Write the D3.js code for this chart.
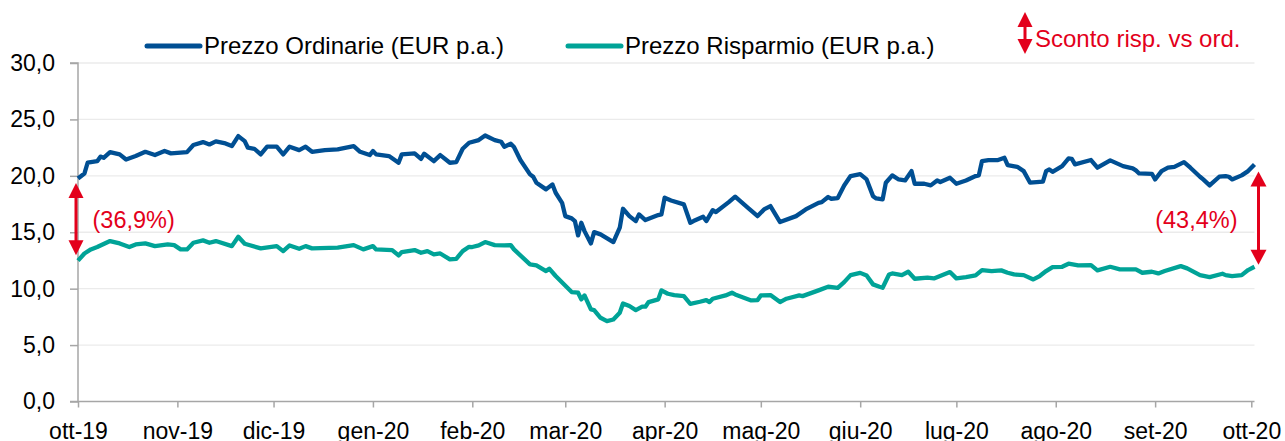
<!DOCTYPE html>
<html>
<head>
<meta charset="utf-8">
<script src="https://cdn.jsdelivr.net/npm/d3@7"></script>
<style>
  body { margin: 0; background: #fff; }
  text { font-family: "Liberation Sans", Arial, sans-serif; }
</style>
</head>
<body>
<svg id="chart" width="1285" height="441"></svg>
<script>
// dati
var ordDates = ["2019-10-01","2019-10-03","2019-10-04","2019-10-07","2019-10-08","2019-10-09","2019-10-11","2019-10-14","2019-10-16","2019-10-19",
  "2019-10-22","2019-10-25","2019-10-28","2019-10-30","2019-11-04","2019-11-06","2019-11-09","2019-11-11","2019-11-13","2019-11-16",
  "2019-11-18","2019-11-20","2019-11-22","2019-11-23","2019-11-25","2019-11-27","2019-11-29","2019-12-02","2019-12-04","2019-12-06",
  "2019-12-09","2019-12-11","2019-12-13","2019-12-17","2019-12-21","2019-12-26","2019-12-28","2019-12-31","2020-01-01","2020-01-02",
  "2020-01-06","2020-01-09","2020-01-10","2020-01-14","2020-01-16","2020-01-17","2020-01-20","2020-01-22","2020-01-25","2020-01-27",
  "2020-01-29","2020-01-31","2020-02-03","2020-02-05","2020-02-08","2020-02-10","2020-02-11","2020-02-13","2020-02-14","2020-02-16",
  "2020-02-19","2020-02-20","2020-02-21","2020-02-24","2020-02-26","2020-02-27","2020-02-29","2020-03-01","2020-03-03","2020-03-04",
  "2020-03-05","2020-03-06","2020-03-07","2020-03-09","2020-03-10","2020-03-12","2020-03-16","2020-03-18","2020-03-19","2020-03-21",
  "2020-03-23","2020-03-24","2020-03-26","2020-03-30","2020-03-31","2020-04-01","2020-04-03","2020-04-07","2020-04-09","2020-04-10",
  "2020-04-13","2020-04-14","2020-04-16","2020-04-17","2020-04-21","2020-04-23","2020-04-27","2020-04-30","2020-05-02","2020-05-04",
  "2020-05-07","2020-05-12","2020-05-15","2020-05-19","2020-05-20","2020-05-22","2020-05-23","2020-05-25","2020-05-27","2020-05-29",
  "2020-06-01","2020-06-03","2020-06-05","2020-06-06","2020-06-08","2020-06-09","2020-06-11","2020-06-13","2020-06-15","2020-06-17",
  "2020-06-18","2020-06-21","2020-06-23","2020-06-25","2020-06-26","2020-06-29","2020-07-01","2020-07-04","2020-07-07","2020-07-08",
  "2020-07-09","2020-07-11","2020-07-14","2020-07-16","2020-07-17","2020-07-20","2020-07-22","2020-07-24","2020-07-28","2020-07-29",
  "2020-07-30","2020-07-31","2020-08-03","2020-08-05","2020-08-06","2020-08-07","2020-08-12","2020-08-14","2020-08-18","2020-08-22",
  "2020-08-25","2020-08-26","2020-08-27","2020-08-31","2020-09-01","2020-09-03","2020-09-05","2020-09-07","2020-09-10","2020-09-12",
  "2020-09-15","2020-09-16","2020-09-18","2020-09-21","2020-09-23","2020-09-24","2020-09-25","2020-09-28","2020-09-30","2020-10-02"];
var ordValues = [19.77,20.2,21.16,21.3,21.7,21.6,22.1,21.9,21.45,21.75,
  22.13,21.84,22.2,21.99,22.1,22.73,22.99,22.78,23.05,22.87,
  22.64,23.52,23.08,22.49,22.4,21.9,22.58,22.58,21.9,22.58,
  22.28,22.58,22.13,22.28,22.34,22.64,22.13,21.84,22.2,21.9,
  21.75,21.16,21.9,21.99,21.5,21.96,21.3,21.84,21.16,21.22,
  22.4,22.93,23.17,23.58,23.17,23.02,22.58,22.84,22.55,21.4,
  20.13,19.92,19.39,18.8,19.24,18.5,17.61,16.43,16.23,15.99,
  14.72,15.84,15.1,14.01,15.01,14.81,14.13,15.4,17.08,16.43,
  15.99,16.58,16.08,16.52,16.58,18.06,17.82,17.47,15.84,15.99,
  16.37,15.99,16.96,16.79,17.67,18.15,17.17,16.43,17.02,17.32,
  15.9,16.43,17.02,17.61,17.67,18.12,17.97,18.03,19.15,19.98,
  20.15,19.68,18.2,18.0,17.91,19.39,20.04,19.68,19.59,20.42,
  19.3,19.3,19.15,19.59,19.45,19.83,19.3,19.59,19.98,20.04,
  21.31,21.4,21.4,21.6,20.95,20.8,20.42,19.39,19.48,20.42,
  20.57,20.36,20.86,21.54,21.51,21.01,21.4,20.72,21.37,20.86,
  20.66,20.48,20.21,20.18,19.68,20.42,20.72,20.8,21.22,20.72,
  19.92,19.68,19.15,19.92,19.98,19.92,19.68,20.04,20.42,21.01];

var rispDates = ["2019-10-01","2019-10-03","2019-10-05","2019-10-07","2019-10-11","2019-10-14","2019-10-17","2019-10-19","2019-10-22","2019-10-25",
  "2019-10-29","2019-10-31","2019-11-02","2019-11-04","2019-11-06","2019-11-09","2019-11-11","2019-11-13","2019-11-18","2019-11-20",
  "2019-11-22","2019-11-27","2019-12-02","2019-12-04","2019-12-06","2019-12-09","2019-12-11","2019-12-13","2019-12-21","2019-12-26",
  "2019-12-29","2020-01-01","2020-01-02","2020-01-07","2020-01-09","2020-01-10","2020-01-14","2020-01-16","2020-01-18","2020-01-20",
  "2020-01-22","2020-01-25","2020-01-27","2020-01-29","2020-01-31","2020-02-01","2020-02-03","2020-02-05","2020-02-08","2020-02-11",
  "2020-02-13","2020-02-14","2020-02-19","2020-02-21","2020-02-24","2020-02-25","2020-02-27","2020-03-03","2020-03-05","2020-03-06",
  "2020-03-07","2020-03-09","2020-03-10","2020-03-12","2020-03-14","2020-03-16","2020-03-18","2020-03-19","2020-03-21","2020-03-23",
  "2020-03-25","2020-03-26","2020-03-27","2020-03-30","2020-03-31","2020-04-02","2020-04-04","2020-04-07","2020-04-09","2020-04-12",
  "2020-04-14","2020-04-15","2020-04-16","2020-04-20","2020-04-22","2020-04-23","2020-04-28","2020-04-30","2020-05-01","2020-05-04",
  "2020-05-07","2020-05-09","2020-05-13","2020-05-14","2020-05-19","2020-05-22","2020-05-25","2020-05-27","2020-05-29","2020-06-01",
  "2020-06-03","2020-06-05","2020-06-07","2020-06-08","2020-06-10","2020-06-11","2020-06-14","2020-06-16","2020-06-18","2020-06-22",
  "2020-06-24","2020-06-29","2020-07-01","2020-07-04","2020-07-07","2020-07-09","2020-07-12","2020-07-15","2020-07-17","2020-07-19",
  "2020-07-22","2020-07-25","2020-07-27","2020-07-29","2020-07-31","2020-08-03","2020-08-05","2020-08-08","2020-08-12","2020-08-14",
  "2020-08-18","2020-08-21","2020-08-26","2020-08-28","2020-08-31","2020-09-02","2020-09-04","2020-09-09","2020-09-11","2020-09-15",
  "2020-09-18","2020-09-22","2020-09-23","2020-09-25","2020-09-28","2020-09-30","2020-10-02"];
var rispValues = [12.48,13.12,13.48,13.69,14.22,14.01,13.69,13.92,14.01,13.77,
  13.92,13.86,13.48,13.48,14.07,14.28,14.07,14.22,13.77,14.6,
  13.98,13.57,13.77,13.33,13.83,13.54,13.77,13.57,13.63,13.86,
  13.48,13.77,13.48,13.42,12.95,13.24,13.42,13.18,13.33,13.04,
  13.12,12.59,12.65,13.33,13.71,13.69,13.83,14.13,13.86,13.83,
  13.86,13.48,12.15,12.06,11.56,11.77,11.12,9.70,9.64,9.05,
  9.40,8.16,8.10,7.42,7.13,7.27,7.87,8.69,8.46,8.10,
  8.40,8.40,8.81,9.05,9.85,9.55,9.43,9.34,8.66,8.84,
  8.99,8.81,9.11,9.40,9.64,9.49,8.96,8.99,9.40,9.43,
  8.81,9.11,9.40,9.34,9.85,10.17,10.08,10.58,11.20,11.40,
  11.17,10.38,10.17,10.08,11.26,11.35,11.20,11.50,10.88,10.97,
  10.91,11.47,10.91,11.03,11.17,11.65,11.56,11.62,11.41,11.26,
  11.20,10.82,11.12,11.56,11.91,11.94,12.21,12.06,12.09,11.62,
  11.94,11.71,11.71,11.41,11.50,11.35,11.56,12.00,11.80,11.20,
  11.03,11.32,11.20,11.12,11.20,11.65,11.94];

var seriesNames = ["Prezzo Ordinarie (EUR p.a.)", "Prezzo Risparmio (EUR p.a.)"];
var monthLabels = ["gen","feb","mar","apr","mag","giu","lug","ago","set","ott","nov","dic"];
var yTicks = [0, 5, 10, 15, 20, 25, 30];
var discountStart = "(36,9%)";
var discountEnd = "(43,4%)";
var discountLabel = "Sconto risp. vs ord.";

var blue = "#004f93", teal = "#00a397", red = "#e3001b";

var svg = d3.select("#chart"),
    margin = {top: 63, left: 78, right: 30.5, bottom: 39.5},
    width = +svg.attr("width") - margin.left - margin.right,
    height = +svg.attr("height") - margin.top - margin.bottom,
    g = svg.append("g").attr("transform", "translate(" + margin.left + "," + margin.top + ")");

var parse = d3.utcParse("%Y-%m-%d");
var ord = ordDates.map(function(d, i) { return {date: parse(d), value: ordValues[i]}; });
var risp = rispDates.map(function(d, i) { return {date: parse(d), value: rispValues[i]}; });

var x = d3.scaleUtc()
    .domain([parse("2019-10-01"), parse("2020-10-02")])
    .range([0, width]);
var y = d3.scaleLinear().domain([0, 30]).range([height, 0]);

// griglia
g.append("g").selectAll("line")
  .data(yTicks.filter(function(d) { return d > 0; }))
  .enter().append("line")
    .attr("x1", 0).attr("x2", width)
    .attr("y1", function(d) { return y(d); })
    .attr("y2", function(d) { return y(d); })
    .attr("stroke", "#ebebeb").attr("stroke-width", 1.3);

var yAxis = g.append("g")
    .call(d3.axisLeft(y).tickValues(yTicks).tickSize(8).tickPadding(15)
      .tickFormat(function(d) { return d3.format(".1f")(d).replace(".", ","); }));

var xAxis = g.append("g")
    .attr("transform", "translate(0," + height + ")")
    .call(d3.axisBottom(x).ticks(d3.utcMonth.every(1)).tickSize(6).tickPadding(15)
      .tickFormat(function(d) { return monthLabels[d.getUTCMonth()] + "-" + d3.utcFormat("%y")(d); }));

[yAxis, xAxis].forEach(function(a) {
  a.select(".domain").attr("stroke", "#a6a6a6").attr("stroke-width", 1.5);
  a.selectAll(".tick line").attr("stroke", "#a6a6a6").attr("stroke-width", 1.5);
  a.selectAll(".tick text").attr("fill", "#000").style("font-size", "23px")
    .style("font-family", "'Liberation Sans', Arial, sans-serif");
});
yAxis.select(".domain").attr("d", "M-8," + height + "H0V0H-8");
xAxis.select(".domain").attr("d", "M0,0H" + width);

var line = d3.line()
    .x(function(d) { return x(d.date); })
    .y(function(d) { return y(d.value); });

g.append("path").datum(risp)
    .attr("fill", "none").attr("stroke", teal).attr("stroke-width", 4.3)
    .attr("stroke-linejoin", "round").attr("d", line);
g.append("path").datum(ord)
    .attr("fill", "none").attr("stroke", blue).attr("stroke-width", 4.3)
    .attr("stroke-linejoin", "round").attr("d", line);

// frecce doppie
function arrow(parent, cx, y1, y2, hw, hh) {
  parent.append("line")
    .attr("x1", cx).attr("x2", cx).attr("y1", y1 + hh - 1).attr("y2", y2 - hh + 1)
    .attr("stroke", red).attr("stroke-width", 3);
  parent.append("path")
    .attr("d", "M" + cx + "," + y1 + "L" + (cx + hw / 2) + "," + (y1 + hh) + "L" + (cx - hw / 2) + "," + (y1 + hh) + "Z")
    .attr("fill", red);
  parent.append("path")
    .attr("d", "M" + cx + "," + y2 + "L" + (cx + hw / 2) + "," + (y2 - hh) + "L" + (cx - hw / 2) + "," + (y2 - hh) + "Z")
    .attr("fill", red);
}

var o0 = ord[0], r0 = risp[0], o1 = ord[ord.length - 1], r1 = risp[risp.length - 1];
arrow(g, x(o0.date) - 2, y(o0.value) + 4.5, y(r0.value) - 5.5, 15, 15);
arrow(g, x(o1.date) + 4, y(o1.value) + 7, y(r1.value) - 2, 16, 15);

g.append("text")
    .attr("x", x(o0.date) + 14.5).attr("y", (y(o0.value) + y(r0.value)) / 2 + 8.5)
    .attr("fill", red).style("font-size", "23.5px").text(discountStart);
g.append("text")
    .attr("x", x(o1.date) - 17).attr("y", (y(o1.value) + y(r1.value)) / 2 + 12.5)
    .attr("text-anchor", "end")
    .attr("fill", red).style("font-size", "23.5px").text(discountEnd);

// legenda
var legend = svg.append("g");
var legendItems = [
  {name: seriesNames[0], color: blue, x: 147},
  {name: seriesNames[1], color: teal, x: 568}
];
legendItems.forEach(function(it) {
  legend.append("line")
    .attr("x1", it.x).attr("x2", it.x + 53).attr("y1", 46).attr("y2", 46)
    .attr("stroke", it.color).attr("stroke-width", 5).attr("stroke-linecap", "round");
  legend.append("text")
    .attr("x", it.x + 57).attr("y", 53.5)
    .attr("fill", "#000").style("font-size", "24px").text(it.name);
});
arrow(legend, 1025, 12, 54, 15, 15);
legend.append("text")
    .attr("x", 1035).attr("y", 46.5)
    .attr("fill", red).style("font-size", "24px").text(discountLabel);
</script>
</body>
</html>
